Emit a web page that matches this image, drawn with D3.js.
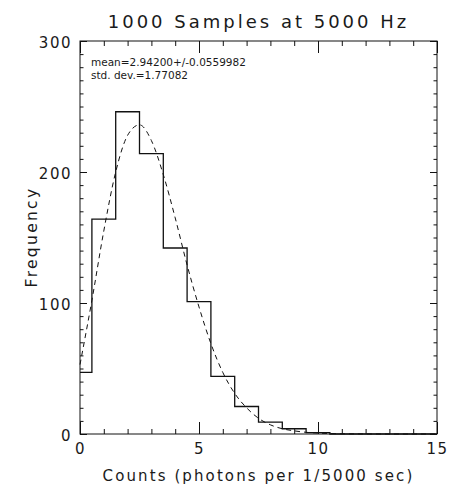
<!DOCTYPE html>
<html>
<head>
<meta charset="utf-8">
<script src="https://cdn.jsdelivr.net/npm/d3@7"></script>
<style>
  body { margin: 0; background: #fff; }
  svg text { font-family: "DejaVu Sans", sans-serif; fill: #1a1a1a; }
</style>
</head>
<body>
<div id="mychart"></div>
<script>
// histogram bins (centred on integer counts) and their frequencies
var binCenters = [0, 1, 2, 3, 4, 5, 6, 7, 8, 9, 10];
var binCounts = [47, 164, 246, 214, 142, 101, 44, 21, 9, 4, 1];

// dashed fitted curve
var fitX = [0, 0.5, 1, 1.5, 2, 2.5, 3, 3.5, 4, 4.5, 5, 5.5, 6, 6.5, 7, 7.5, 8, 8.5, 9, 9.5, 10, 11, 12, 13, 14, 15];
var fitY = [53, 102, 155, 200, 228, 236, 224, 198, 165, 129, 97, 69, 47, 31, 20, 12, 7, 4, 2.4, 1.3, 0.7, 0.2, 0.05, 0, 0, 0];

var xMajor = [0, 5, 10, 15];
var yMajor = [0, 100, 200, 300];

var titleText = "1000 Samples at 5000 Hz";
var xTitle = "Counts (photons per 1/5000 sec)";
var yTitle = "Frequency";
var notes = ["mean=2.94200+/-0.0559982", "std. dev.=1.77082"];

var svg = d3.select("#mychart").append("svg")
    .attr("width", 450)
    .attr("height", 488);

var x = d3.scaleLinear().domain([0, 15]).range([80, 437]);
var y = d3.scaleLinear().domain([0, 300]).range([434, 41]);

// frame
svg.append("rect")
    .attr("x", x(0)).attr("y", y(300))
    .attr("width", x(15) - x(0)).attr("height", y(0) - y(300))
    .attr("fill", "none").attr("stroke", "#111").attr("stroke-width", 1);

function noDomain(g) { g.select(".domain").remove(); g.selectAll("line").attr("stroke", "#111"); }

// x axes (ticks point inward)
svg.append("g")
    .attr("transform", "translate(0," + y(0) + ")")
    .call(d3.axisBottom(x).tickValues(d3.range(0, 16)).tickSize(-5).tickFormat(""))
    .call(noDomain);
svg.append("g")
    .attr("transform", "translate(0," + y(0) + ")")
    .call(d3.axisBottom(x).tickValues(xMajor).tickSize(-12).tickPadding(9).tickFormat(d3.format("d")))
    .call(noDomain)
    .selectAll("text").attr("font-size", 15).attr("letter-spacing", 1.5);
svg.append("g")
    .attr("transform", "translate(0," + y(300) + ")")
    .call(d3.axisTop(x).tickValues(d3.range(0, 16)).tickSize(-5).tickFormat(""))
    .call(noDomain);
svg.append("g")
    .attr("transform", "translate(0," + y(300) + ")")
    .call(d3.axisTop(x).tickValues(xMajor).tickSize(-12).tickFormat(""))
    .call(noDomain);

// y axes
svg.append("g")
    .attr("transform", "translate(" + x(0) + ",0)")
    .call(d3.axisLeft(y).tickValues(d3.range(0, 301, 10)).tickSize(-3.5).tickFormat(""))
    .call(noDomain);
svg.append("g")
    .attr("transform", "translate(" + x(0) + ",0)")
    .call(d3.axisLeft(y).tickValues(yMajor).tickSize(-7).tickPadding(8).tickFormat(d3.format("d")))
    .call(noDomain)
    .selectAll("text").attr("font-size", 15).attr("letter-spacing", 1.5).attr("dy", "0.4em");
svg.append("g")
    .attr("transform", "translate(" + x(15) + ",0)")
    .call(d3.axisRight(y).tickValues(d3.range(0, 301, 10)).tickSize(-3.5).tickFormat(""))
    .call(noDomain);
svg.append("g")
    .attr("transform", "translate(" + x(15) + ",0)")
    .call(d3.axisRight(y).tickValues(yMajor).tickSize(-7).tickFormat(""))
    .call(noDomain);

// histogram as a stepped outline
var steps = binCenters.map(function(c, i) { return [Math.max(0, c - 0.5), binCounts[i]]; });
var lastEdge = binCenters[binCenters.length - 1] + 0.5;
steps.push([lastEdge, 0]);
steps.push([15, 0]);

var stepLine = d3.line()
    .x(function(d) { return x(d[0]); })
    .y(function(d) { return y(d[1]); })
    .curve(d3.curveStepAfter);

svg.append("path")
    .datum(steps)
    .attr("d", stepLine)
    .attr("fill", "none")
    .attr("stroke", "#111")
    .attr("stroke-width", 1.3);

// dashed fit
var fitLine = d3.line()
    .x(function(d, i) { return x(fitX[i]); })
    .y(function(d) { return y(d); })
    .curve(d3.curveMonotoneX);

svg.append("path")
    .datum(fitY)
    .attr("d", fitLine)
    .attr("fill", "none")
    .attr("stroke", "#111")
    .attr("stroke-width", 1)
    .attr("stroke-dasharray", "5,4");

// texts
svg.append("text")
    .attr("x", (x(0) + x(15)) / 2).attr("y", 28)
    .attr("text-anchor", "middle")
    .attr("font-size", 18).attr("letter-spacing", 3)
    .text(titleText);

svg.append("text")
    .attr("x", (x(0) + x(15)) / 2).attr("y", 481)
    .attr("text-anchor", "middle")
    .attr("font-size", 15).attr("letter-spacing", 2.1)
    .text(xTitle);

svg.append("text")
    .attr("transform", "translate(37,237) rotate(-90)")
    .attr("text-anchor", "middle")
    .attr("font-size", 15.5).attr("letter-spacing", 2.3)
    .text(yTitle);

svg.selectAll(".note")
    .data(notes)
    .enter().append("text")
    .attr("class", "note")
    .attr("x", 91)
    .attr("y", function(d, i) { return 66 + i * 13; })
    .attr("font-size", 10.5)
    .text(function(d) { return d; });
</script>
</body>
</html>
